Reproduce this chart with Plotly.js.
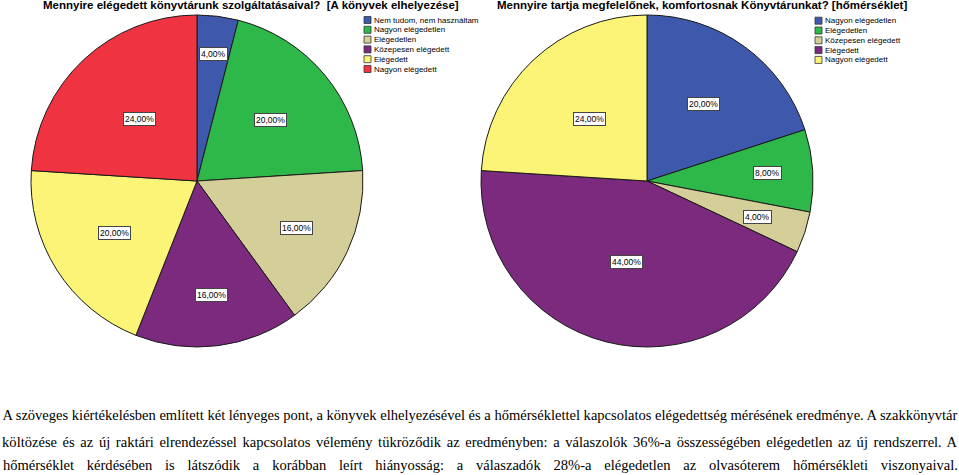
<!DOCTYPE html>
<html>
<head>
<meta charset="utf-8">
<script src="https://cdn.plot.ly/plotly-3.0.1.min.js"></script>
<style>
  html, body { margin: 0; padding: 0; background: #fff; }
  #chart { width: 959px; height: 475px; }
</style>
</head>
<body>
<div id="chart"></div>
<script>
// ---------- data ----------
const leftTitle = 'Mennyire elégedett könyvtárunk szolgáltatásaival?\u00a0 [A könyvek elhelyezése]';
const leftCats = ['Nem tudom, nem használtam', 'Nagyon elégedetlen', 'Elégedetlen', 'Közepesen elégedett', 'Elégedett', 'Nagyon elégedett'];
const leftVals = [4, 20, 16, 16, 20, 24];

const rightTitle = 'Mennyire tartja megfelelőnek, komfortosnak Könyvtárunkat? [hőmérséklet]';
const rightCats = ['Nagyon elégedetlen', 'Elégedetlen', 'Közepesen elégedett', 'Elégedett', 'Nagyon elégedett'];
const rightVals = [20, 8, 4, 44, 24];

const paragraphLines = [
  'A szöveges kiértékelésben említett két lényeges pont, a könyvek elhelyezésével és a hőmérséklettel kapcsolatos elégedettség mérésének eredménye. A szakkönyvtár',
  'költözése és az új raktári elrendezéssel kapcsolatos vélemény tükröződik az eredményben: a válaszolók 36%-a összességében elégedetlen az új rendszerrel. A',
  'hőmérséklet kérdésében is látszódik a korábban leírt hiányosság: a válaszadók 28%-a elégedetlen az olvasóterem hőmérsékleti viszonyaival.'
];

// ---------- styles ----------
const W = 959, H = 475;
const leftColors = ['#3e58ac', '#2eb84a', '#d4ce98', '#7b2a7e', '#fbf477', '#ef3340'];
const rightColors = ['#3e58ac', '#2eb84a', '#d4ce98', '#7b2a7e', '#fbf477'];
const leftLabelRadius = [0.77, 0.575, 0.66, 0.69, 0.59, 0.51];
const rightLabelRadius = [0.576, 0.73, 0.70, 0.505, 0.51];
const pieGeom = [
  { cx: 197, cy: 181, r: 166 },
  { cx: 647, cy: 181, r: 166 }
];
const sansFont = 'Liberation Sans, Arial, sans-serif';
const serifFont = 'Liberation Serif, Times New Roman, serif';

function domainOf(g) {
  return {
    x: [(g.cx - g.r) / W, (g.cx + g.r) / W],
    y: [1 - (g.cy + g.r) / H, 1 - (g.cy - g.r) / H]
  };
}

function pieTrace(cats, vals, colors, g) {
  return {
    type: 'pie',
    labels: cats,
    values: vals,
    sort: false,
    direction: 'clockwise',
    rotation: 0,
    textinfo: 'none',
    hoverinfo: 'skip',
    showlegend: false,
    marker: { colors: colors, line: { color: '#1a1a1a', width: 1 } },
    domain: domainOf(g)
  };
}

function fmt(v, total) {
  return (v / total * 100).toFixed(2).replace('.', ',') + '%';
}

function sliceLabels(vals, fracs, g) {
  const total = vals.reduce((a, b) => a + b, 0);
  let cum = 0;
  const out = [];
  vals.forEach((v, i) => {
    const mid = (cum + v / 2) / total * 2 * Math.PI;
    cum += v;
    const px = g.cx + g.r * fracs[i] * Math.sin(mid);
    const py = g.cy - g.r * fracs[i] * Math.cos(mid);
    out.push({
      xref: 'paper', yref: 'paper', x: px / W, y: 1 - py / H,
      xanchor: 'center', yanchor: 'middle', showarrow: false,
      text: fmt(v, total),
      font: { family: sansFont, size: 8.5, color: '#000' },
      bgcolor: '#ffffff', bordercolor: '#444444', borderwidth: 1, borderpad: 1
    });
  });
  return out;
}

function legendItems(cats, colors, sqX, y0, step) {
  const shapes = [], anns = [];
  cats.forEach((c, i) => {
    const yc = y0 + i * step;
    shapes.push({
      type: 'rect', xref: 'paper', yref: 'paper',
      x0: sqX / W, x1: (sqX + 7) / W,
      y0: 1 - (yc + 3.5) / H, y1: 1 - (yc - 3.5) / H,
      fillcolor: colors[i], line: { color: '#333333', width: 0.8 }
    });
    anns.push({
      xref: 'paper', yref: 'paper', x: (sqX + 8) / W, y: 1 - yc / H,
      xanchor: 'left', yanchor: 'middle', showarrow: false,
      text: c, font: { family: sansFont, size: 8, color: '#000' }
    });
  });
  return { shapes, anns };
}

const legL = legendItems(leftCats, leftColors, 364, 20, 9.8);
const legR = legendItems(rightCats, rightColors, 815, 20.7, 9.8);

const titleAnns = [
  { xref: 'paper', yref: 'paper', x: 251 / W, y: 1 - 5.5 / H, xanchor: 'center', yanchor: 'middle',
    showarrow: false, text: '<b>' + leftTitle + '</b>', font: { family: sansFont, size: 11.5, color: '#000' } },
  { xref: 'paper', yref: 'paper', x: 702 / W, y: 1 - 5.5 / H, xanchor: 'center', yanchor: 'middle',
    showarrow: false, text: '<b>' + rightTitle + '</b>', font: { family: sansFont, size: 11.5, color: '#000' } }
];

const paraY = [415, 442, 465];
const paraAnns = paragraphLines.map((t, i) => ({
  xref: 'paper', yref: 'paper', x: 480 / W, y: 1 - paraY[i] / H,
  xanchor: 'center', yanchor: 'middle', showarrow: false,
  text: t, font: { family: serifFont, size: 14, color: '#000' }
}));

const labelAnns = sliceLabels(leftVals, leftLabelRadius, pieGeom[0])
  .concat(sliceLabels(rightVals, rightLabelRadius, pieGeom[1]));

const annotations = [].concat(titleAnns, legL.anns, legR.anns, labelAnns, paraAnns);
const paraStart = annotations.length - paraAnns.length;

const data = [
  pieTrace(leftCats, leftVals, leftColors, pieGeom[0]),
  pieTrace(rightCats, rightVals, rightColors, pieGeom[1])
];

const layout = {
  width: W, height: H,
  margin: { l: 0, r: 0, t: 0, b: 0 },
  paper_bgcolor: '#ffffff',
  plot_bgcolor: '#ffffff',
  showlegend: false,
  annotations: annotations,
  shapes: legL.shapes.concat(legR.shapes)
};

Plotly.newPlot('chart', data, layout, { staticPlot: true, displayModeBar: false }).then(gd => {
  // justify the paragraph lines across the full width
  const target = 955;
  const els = paragraphLines.map((_, k) =>
    gd.querySelector('.annotation[data-index="' + (paraStart + k) + '"] text.annotation-text'));
  if (els.some(e => !e)) return;
  const w0 = els[0].getComputedTextLength();
  const f = target / w0;
  els.forEach((el, k) => {
    const w = el.getComputedTextLength();
    const nSp = (paragraphLines[k].match(/ /g) || []).length;
    const ws = nSp ? (target / f - w) / nSp : 0;
    el.style.wordSpacing = ws + 'px';
    el.setAttribute('textLength', target);
    el.setAttribute('lengthAdjust', 'spacingAndGlyphs');
  });
});
</script>
</body>
</html>
